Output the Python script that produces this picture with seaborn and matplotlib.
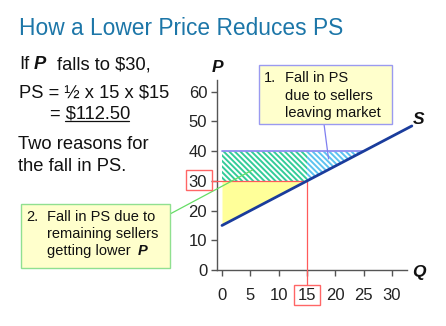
import numpy as np
import matplotlib
matplotlib.use("Agg")
import matplotlib.pyplot as plt
import seaborn as sns
from matplotlib.patches import Rectangle
from matplotlib.lines import Line2D

# Supply curve and the price change
supply_q = [0, 33.5]
supply_p = [15, 48.5]
old_price = 40
new_price = 30
old_qty = 25
new_qty = 15
q_ticks = [0, 5, 10, 15, 20, 25, 30]
p_ticks = [0, 10, 20, 30, 40, 50, 60]

sns.set_theme(style="ticks")
plt.rcParams['font.family'] = ['Liberation Sans', 'DejaVu Sans']
plt.rcParams['hatch.linewidth'] = 1.4

W, H = 446, 326
fig = plt.figure(figsize=(W / 100, H / 100), dpi=100)
fig.patch.set_facecolor('white')


def fx(px):
    return px / W


def fy(py):
    return 1 - py / H


# axes geometry (pixels per data unit)
ppx, ppy = 5.667, 2.97
xmin, xmax = -0.9, 34
ymin, ymax = 0, 65
ax = fig.add_axes([fx(222 + xmin * ppx), fy(270),
                   (xmax - xmin) * ppx / W, (ymax - ymin) * ppy / H])
ax.set_facecolor('white')

supply = lambda q: np.interp(q, supply_q, supply_p)
dense = '\\' * 6

# remaining producer surplus at the lower price
q_a = np.linspace(0, new_qty, 50)
ax.fill_between(q_a, supply(q_a), new_price, color='#FFFF99', lw=0, zorder=1)

# surplus lost by remaining sellers
ax.fill_between([0, new_qty], new_price, old_price, facecolor='white',
                edgecolor='#33CC99', hatch=dense, lw=0, zorder=1)

# surplus lost by sellers leaving the market
q_b = np.linspace(new_qty, old_qty, 50)
ax.fill_between(q_b, supply(q_b), old_price, facecolor='white',
                edgecolor='#5CC3F0', hatch=dense, lw=0, zorder=1)

ax.plot([0, old_qty], [old_price, old_price], color='#8F8FF0', lw=1.3, zorder=2)

# price and quantity guides
ax.plot([-1.75, new_qty], [new_price, new_price], color='#FF5A5A', lw=0.9,
        clip_on=False, zorder=3)
ax.plot([new_qty, new_qty], [-5.1, new_price], color='#FF5A5A', lw=0.9,
        clip_on=False, zorder=3)

# supply curve
sns.lineplot(x=supply_q, y=supply_p, ax=ax, color='#1A3C9C', lw=2.0, zorder=4)

ax.set_xlim(xmin, xmax)
ax.set_ylim(ymin, ymax)
ax.set_xticks(q_ticks)
ax.set_yticks(p_ticks)
ax.tick_params(axis='both', colors='#555555', length=4, width=1,
               labelsize=12, labelcolor='#222222')
ax.tick_params(axis='x', pad=9)
ax.tick_params(axis='y', pad=3)
for side in ['top', 'right']:
    ax.spines[side].set_visible(False)
for side in ['left', 'bottom']:
    ax.spines[side].set_color('#555555')
    ax.spines[side].set_linewidth(1.0)
ax.spines['left'].set_bounds(0, 64)
ax.spines['bottom'].set_bounds(xmin, 32.7)
ax.set_xlabel('')
ax.set_ylabel('')

# red frames on the new price and quantity ticks
for (l, t, r, b) in [(186, 170, 212, 190), (294, 285, 320, 305)]:
    fig.add_artist(Rectangle((fx(l), fy(b)), (r - l) / W, (b - t) / H,
                             transform=fig.transFigure, facecolor='none',
                             edgecolor='#FF6666', lw=1.0))

# axis letters
fig.text(fx(218), fy(68), 'P', fontsize=12.5, fontweight='bold',
         fontstyle='italic', ha='center', va='center', color='#111111')
fig.text(fx(419), fy(120), 'S', fontsize=12.5, fontweight='bold',
         fontstyle='italic', ha='center', va='center', color='#111111')
fig.text(fx(419), fy(272), 'Q', fontsize=12.5, fontweight='bold',
         fontstyle='italic', ha='center', va='center', color='#111111')

# title
fig.text(fx(19), fy(35), 'How a Lower Price Reduces PS', fontsize=16.4,
         color='#1C76A8', va='baseline', ha='left')

# left-hand explanation
body = dict(fontsize=13.2, color='#111111', va='baseline', ha='left')
fig.text(fx(19), fy(69), 'If', **body)
fig.text(fx(34), fy(69), 'P', fontweight='bold', fontstyle='italic', **body)
fig.text(fx(57), fy(69), 'falls to $30,', **body)
fig.text(fx(19), fy(97), 'PS = ½ x 15 x $15', **body)
fig.text(fx(50), fy(118), '= $112.50', **body)
fig.add_artist(Line2D([fx(65), fx(129)], [fy(121), fy(121)],
                      transform=fig.transFigure, color='#111111', lw=0.9))
fig.text(fx(18), fy(149), 'Two reasons for', **body)
fig.text(fx(18), fy(171), 'the fall in PS.', **body)

# callout boxes
note = dict(fontsize=10.5, color='#111111', va='baseline', ha='left', zorder=6)
b1 = (259, 65, 392, 124)
fig.add_artist(Rectangle((fx(b1[0]), fy(b1[3])), (b1[2] - b1[0]) / W,
                         (b1[3] - b1[1]) / H, transform=fig.transFigure,
                         facecolor='#FFFFCC', edgecolor='#9A9AF0', lw=1.0,
                         zorder=5))
fig.text(fx(264), fy(82), '1.', **note)
fig.text(fx(285), fy(82), 'Fall in PS', **note)
fig.text(fx(285), fy(100), 'due to sellers', **note)
fig.text(fx(285), fy(117), 'leaving market', **note)
ax.annotate('', xy=(18.8, 37.4), xytext=(fx(324), fy(124)),
            textcoords='figure fraction', annotation_clip=False,
            arrowprops=dict(arrowstyle='-', color='#7F7FF0', lw=0.9,
                            shrinkA=0, shrinkB=0), zorder=5)

b2 = (21, 204, 170, 268)
fig.add_artist(Rectangle((fx(b2[0]), fy(b2[3])), (b2[2] - b2[0]) / W,
                         (b2[3] - b2[1]) / H, transform=fig.transFigure,
                         facecolor='#FFFFCC', edgecolor='#90E090', lw=1.0,
                         zorder=5))
fig.text(fx(26), fy(221), '2.', **note)
fig.text(fx(47), fy(221), 'Fall in PS due to', **note)
fig.text(fx(47), fy(238), 'remaining sellers', **note)
fig.text(fx(47), fy(255), 'getting lower', **note)
fig.text(fx(138), fy(255), 'P', fontweight='bold', fontstyle='italic', **note)
ax.annotate('', xy=(5.4, 33.7), xytext=(fx(170), fy(214)),
            textcoords='figure fraction', annotation_clip=False,
            arrowprops=dict(arrowstyle='-', color='#66DD66', lw=0.9,
                            shrinkA=0, shrinkB=0), zorder=5)

fig.savefig('out.png', dpi=100, facecolor='white')
